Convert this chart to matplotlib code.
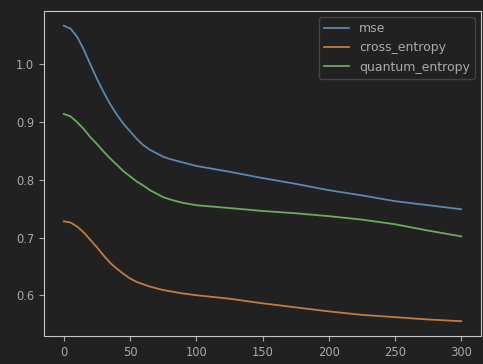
import matplotlib
matplotlib.use("Agg")
import matplotlib.pyplot as plt

# Loss curves.
steps = [0, 5, 10, 15, 20, 25, 30, 35, 40, 45, 50, 55, 60, 65, 70, 75, 80, 85, 90, 100,
         125, 150, 175, 200, 225, 250, 275, 300]
mse = [1.067, 1.062, 1.048, 1.026, 1.000, 0.975, 0.952, 0.931, 0.913, 0.897, 0.884, 0.871,
       0.860, 0.852, 0.846, 0.840, 0.836, 0.833, 0.830, 0.824,
       0.814, 0.803, 0.793, 0.782, 0.773, 0.763, 0.756, 0.749]
cross_entropy = [0.728, 0.726, 0.719, 0.709, 0.696, 0.683, 0.669, 0.656, 0.646, 0.637, 0.629,
                 0.623, 0.619, 0.615, 0.612, 0.609, 0.607, 0.605, 0.603, 0.600,
                 0.594, 0.586, 0.579, 0.572, 0.566, 0.562, 0.558, 0.555]
quantum_entropy = [0.914, 0.910, 0.900, 0.888, 0.874, 0.862, 0.849, 0.837, 0.826, 0.815, 0.806,
                   0.797, 0.790, 0.782, 0.776, 0.770, 0.766, 0.763, 0.760, 0.756,
                   0.751, 0.746, 0.742, 0.737, 0.731, 0.723, 0.712, 0.702]

bg = "#212121"
fg = "#aaaaaa"

fig = plt.figure(figsize=(4.83, 3.64), dpi=100, facecolor=bg)
ax = fig.add_axes([0.091, 0.077, 0.905, 0.893], facecolor=bg)

ax.plot(steps, mse, color="#5b88b0", lw=1.3, label="mse")
ax.plot(steps, cross_entropy, color="#c27c3e", lw=1.3, label="cross_entropy")
ax.plot(steps, quantum_entropy, color="#6aab5e", lw=1.3, label="quantum_entropy")

for s in ax.spines.values():
    s.set_color("#c8c8c8")
ax.tick_params(colors=fg, labelsize=8.3, length=3.5)
ax.set_xticks([0, 50, 100, 150, 200, 250, 300])
ax.set_yticks([0.6, 0.7, 0.8, 0.9, 1.0])

leg = ax.legend(loc="upper right", fontsize=9, facecolor=bg, edgecolor="#444444",
                labelcolor=fg, framealpha=1)

fig.savefig("out.png", dpi=100, facecolor=bg)
